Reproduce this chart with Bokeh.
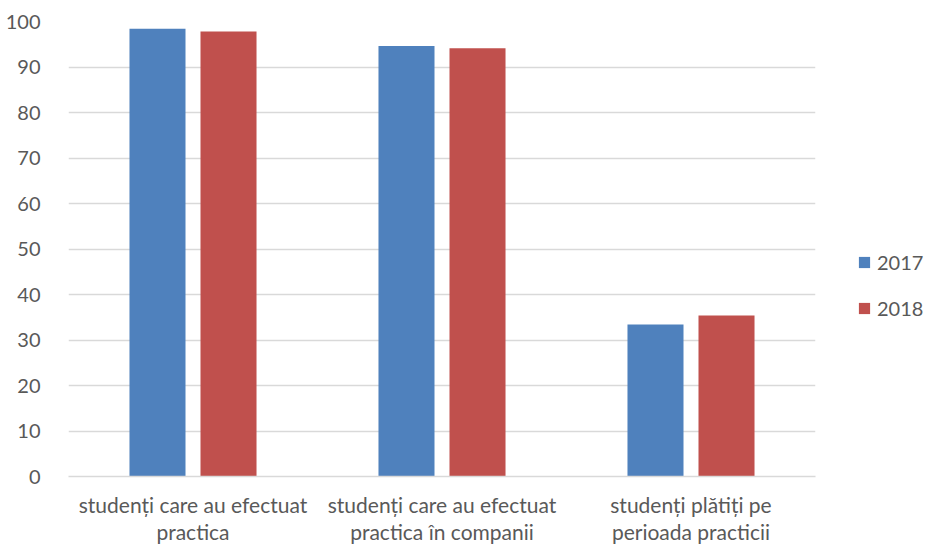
from bokeh.plotting import figure
from bokeh.models import FactorRange, Range1d, ColumnDataSource, Legend, LegendItem, SingleIntervalTicker
from bokeh.transform import dodge
from bokeh.embed import file_html
from bokeh.resources import INLINE

categories = ["studenți care au efectuat\npractica",
              "studenți care au efectuat\npractica în companii",
              "studenți plătiți pe\nperioada practicii"]
series_names = ["2017", "2018"]
values_2017 = [98.4, 94.6, 33.4]
values_2018 = [97.8, 94.1, 35.4]
colors = ["#4F81BD", "#C0504D"]

src = ColumnDataSource(dict(cat=categories, v2017=values_2017, v2018=values_2018))

FONT = "Lato"
FS_CAT = "21px"
FS_NUM = "20px"
TXT = "#595959"
p = figure(x_range=FactorRange(*categories, range_padding=0), y_range=Range1d(0, 100),
           frame_width=747, frame_height=455, output_backend="svg", toolbar_location=None,
           min_border_left=68, min_border_right=103, min_border_top=21, min_border_bottom=50)
p.outline_line_color = None

r1 = p.vbar(x=dodge("cat", -0.1426, range=p.x_range), top="v2017", width=0.225, source=src,
            fill_color=colors[0], line_color=None)
r2 = p.vbar(x=dodge("cat", 0.1426, range=p.x_range), top="v2018", width=0.225, source=src,
            fill_color=colors[1], line_color=None)

p.xgrid.grid_line_color = None
p.ygrid.grid_line_color = "#D9D9D9"
p.ygrid.grid_line_width = 1.5
p.yaxis.ticker = SingleIntervalTicker(interval=10)
p.yaxis.axis_line_color = None
p.yaxis.major_tick_line_color = None
p.yaxis.minor_tick_line_color = None
p.yaxis.major_label_standoff = 22
p.yaxis.major_label_text_font = FONT
p.yaxis.major_label_text_font_size = FS_NUM
p.yaxis.major_label_text_color = TXT

p.xaxis.axis_line_color = "#D9D9D9"
p.xaxis.axis_line_width = 1.5
p.xaxis.major_tick_line_color = None
p.xaxis.minor_tick_line_color = None
p.xaxis.major_label_standoff = 9
p.xaxis.major_label_text_font = FONT
p.xaxis.major_label_text_font_size = FS_CAT
p.xaxis.major_label_text_color = TXT
p.xaxis.major_label_text_line_height = 1.1

legend = Legend(items=[LegendItem(label=series_names[0], renderers=[r1]),
                       LegendItem(label=series_names[1], renderers=[r2])],
                location=(42, 156), glyph_width=14, glyph_height=14,
                label_text_font=FONT, label_text_font_size=FS_NUM, label_text_color=TXT,
                label_height=22, spacing=22, padding=0, margin=0, border_line_color=None,
                background_fill_alpha=0, label_standoff=6)
p.add_layout(legend, "right")

open("out.html", "w").write(file_html(p, INLINE))
